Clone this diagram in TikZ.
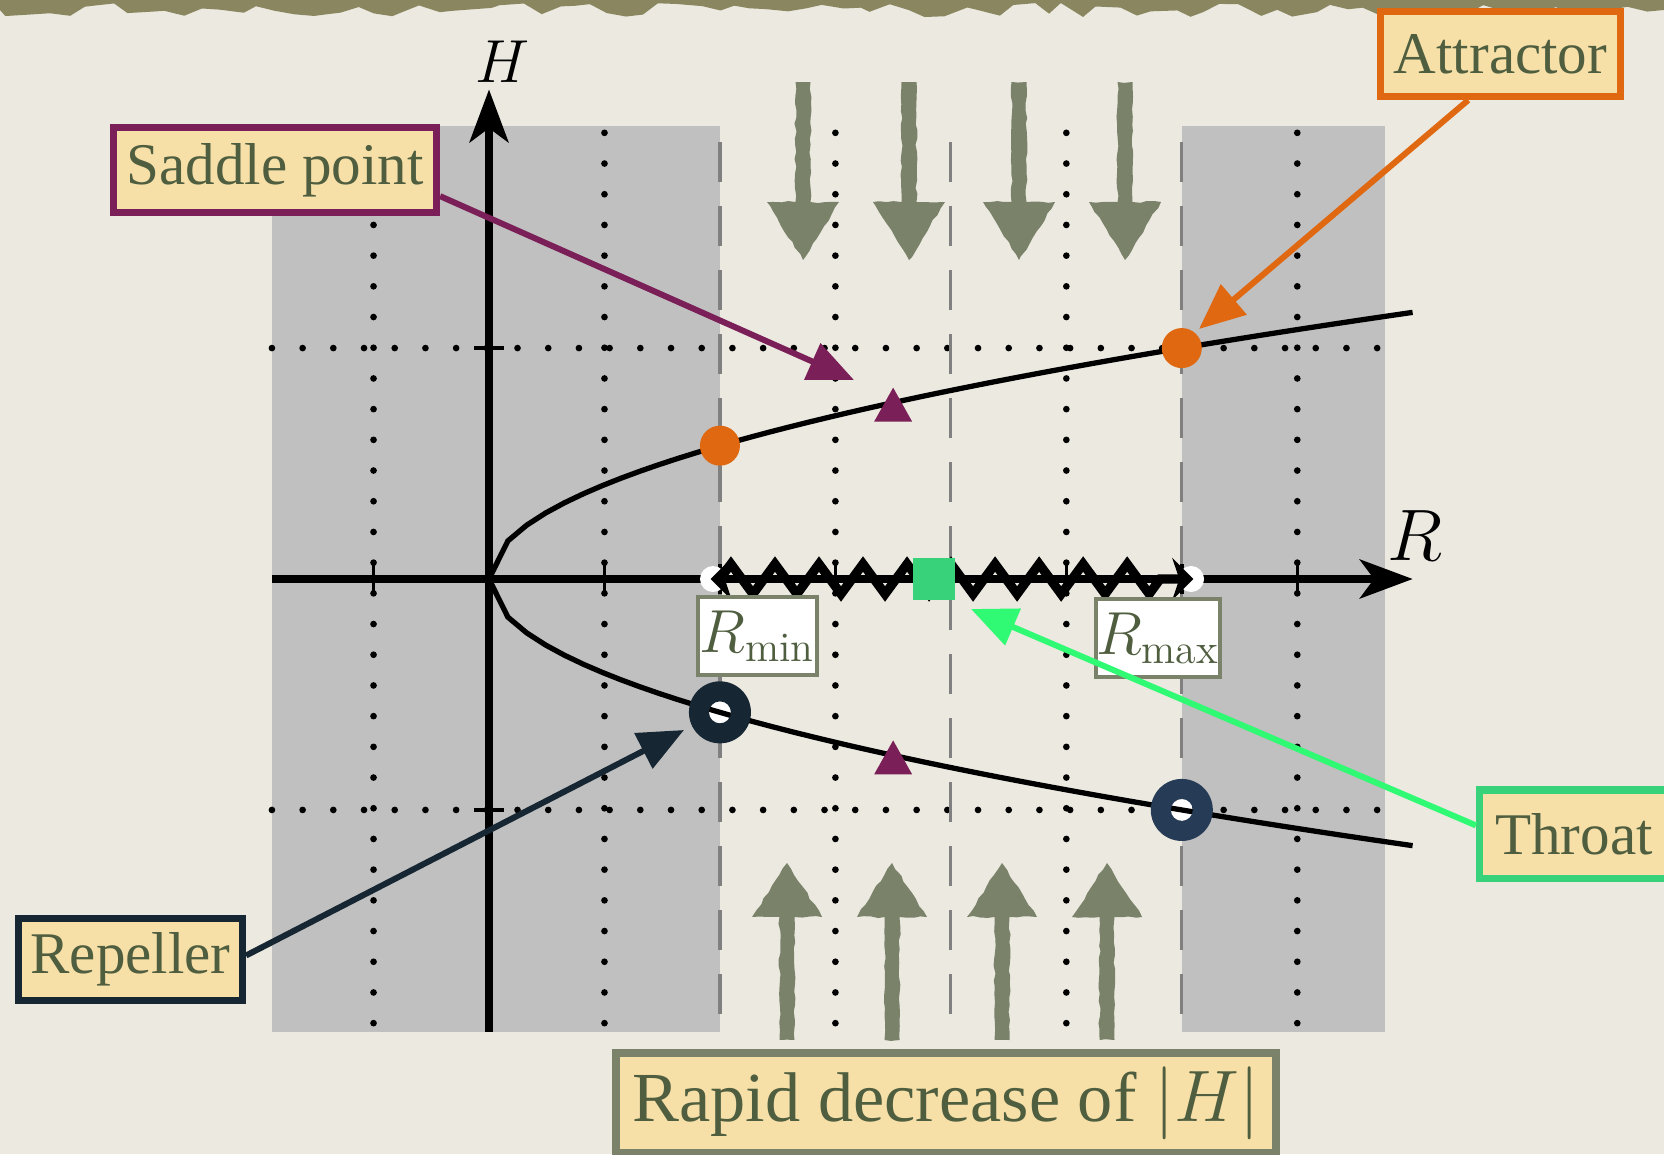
\documentclass[tikz,border=0pt]{standalone}
\usepackage{fontspec}
\newfontfamily\labelfont{Liberation Serif}
\usetikzlibrary{arrows.meta,decorations.pathmorphing,calc}
\definecolor{paper}{RGB}{235,233,224}
\definecolor{band}{RGB}{138,134,96}
\definecolor{greyrect}{RGB}{192,192,192}
\definecolor{chalk}{RGB}{122,130,106}
\definecolor{txt}{RGB}{80,94,64}
\definecolor{wheat}{RGB}{246,224,168}
\definecolor{sadcol}{RGB}{122,31,87}
\definecolor{attcol}{RGB}{224,104,16}
\definecolor{repcol}{RGB}{22,38,50}
\definecolor{repcolb}{RGB}{38,59,85}
\definecolor{thrcol}{RGB}{56,210,122}
\definecolor{thrline}{RGB}{48,250,115}
\definecolor{dashgray}{RGB}{128,128,128}
\begin{document}
\begin{tikzpicture}[x=0.01cm,y=-0.01cm,
  lbl/.style={fill=wheat, line width=2pt, text=txt, font=\labelfont\fontsize{16.8}{20}\selectfont, inner sep=0pt, align=center},
  rbox/.style={fill=white, draw=chalk, line width=1.2pt, text=txt, font=\fontsize{17}{20}\selectfont, inner sep=0pt, minimum width=1.19cm, minimum height=0.78cm},
  callout/.style={line width=1.7pt, -{Triangle[length=13pt,width=11pt]}},
  dotline/.style={line width=1.9pt, line cap=round, dash pattern=on 0pt off 8.73pt},
  dashline/.style={draw=dashgray, line width=0.9pt, dash pattern=on 11.4pt off 6.8pt},
  chalkarrow/.style={fill=chalk, decorate, decoration={random steps, segment length=2pt, amplitude=0.3pt}},
  axisline/.style={line width=2.4pt, -{Stealth[length=15pt,width=11pt,inset=4pt]}},
  curve/.style={line width=1.5pt},
  tickmark/.style={line width=1pt}
]
\fill[paper] (0,0) rectangle (1664,1154);
\useasboundingbox (0,0) rectangle (1664,1154);
\pgfmathsetseed{7}
\fill[band] (0,0) -- (1664,0) -- (1664,10) decorate[decoration={random steps,segment length=5pt,amplitude=2pt}]{-- (0,10)} -- cycle;

\begin{scope}[shift={(489,579)}, x=2.308cm, y=2.308cm]
  \fill[greyrect] (-0.94,-1.96) rectangle (1,1.96);
  \fill[greyrect] (3,-1.96) rectangle (3.88,1.96);
  \foreach \gx in {-0.5,0.5,1.5,2.5,3.5} \draw[dotline] (\gx,1.932) -- (\gx,-1.96);
  \foreach \gy in {1,-1} \draw[dotline] (-0.94,\gy) -- (3.88,\gy);
  \foreach \gx in {1,2,3} \draw[dashline] (\gx,1.893) -- (\gx,-1.96);
\end{scope}

% chalk arrows
\foreach \c in {803,909,1019,1125}
  \fill[chalkarrow] ({\c-7.5},82) -- ({\c+7.5},82) -- ({\c+7.5},202) -- ({\c+36},202) -- (\c,260) -- ({\c-36},202) -- ({\c-7.5},202) -- cycle;
\foreach \c in {787,892,1002,1107}
  \fill[chalkarrow] ({\c-7.5},1040) -- ({\c+7.5},1040) -- ({\c+7.5},917) -- ({\c+35},917) -- (\c,863) -- ({\c-35},917) -- ({\c-7.5},917) -- cycle;

\begin{scope}[shift={(489,579)}, x=2.308cm, y=2.308cm]
  \draw[axisline] (-0.94,0) -- (4.0,0);
  \draw[axisline] (0,-1.96) -- (0,2.12);
  \foreach \gx in {-0.5,0.5,1,1.5,2,2.5,3,3.5} \draw[tickmark] (\gx,0.065) -- (\gx,-0.065);
  \foreach \gy in {1,-1} \draw[tickmark] (-0.065,\gy) -- (0.065,\gy);
  \fill[white] (1,{-sqrt(1/3)}) circle[radius=1.1mm];
  \fill[white] (3,-1) circle[radius=1.1mm];
  \draw[curve] plot[domain=0:4, samples=50] ({\x},{sqrt(\x/3)});
  \draw[curve] plot[domain=0:4, samples=50] ({\x},{-sqrt(\x/3)});
  \fill[attcol] (1,{sqrt(1/3)}) circle[radius=2mm];
  \fill[attcol] (3,1) circle[radius=2mm];
  \fill[repcol, even odd rule] (1,{-sqrt(1/3)}) circle[radius=3.1mm] circle[radius=1.1mm];
  \fill[repcolb, even odd rule] (3,-1) circle[radius=3.1mm] circle[radius=1.1mm];
  \fill[sadcol] (1.75,{sqrt(1.75/3)}) ++(0,0.15cm) -- ++(0.19cm,-0.34cm) -- ++(-0.38cm,0) -- cycle;
  \fill[sadcol] (1.75,{-sqrt(1.75/3)}) ++(0,0.15cm) -- ++(0.19cm,-0.34cm) -- ++(-0.38cm,0) -- cycle;
  \fill[white] (0.97,0) circle[radius=0.13cm];
  \fill[white] (3.04,0) circle[radius=0.13cm];
  \draw[line width=1.8pt, {Stealth[length=6pt,width=12pt,inset=2pt]}-{Stealth[length=6pt,width=12pt,inset=2pt]}] (0.96,0) -- (3.05,0);
  \draw[line width=2.6pt, line join=miter, decorate, decoration={zigzag,segment length=0.44cm,amplitude=0.15cm}] (1.0,0) -- (3.0,0);
  \fill[thrcol] (1.928,0) ++(-0.21cm,-0.21cm) rectangle ++(0.42cm,0.42cm);
\end{scope}

% axis labels
\node[font=\fontsize{17}{20}\selectfont] (hlab) at (502,62) {$H$};
\node[font=\fontsize{20}{24}\selectfont] (rlab) at (1415,536) {$R$};

\node[rbox] (rmin) at (757.5,636) {$R_{\mathrm{min}}$};
\node[rbox] (rmax) at (1158,638) {$R_{\mathrm{max}}$};

% labels
\node[lbl, draw=sadcol, minimum width=3.23cm, minimum height=0.85cm] (saddle) at (275,170) {Saddle point};
\node[lbl, draw=attcol, minimum width=2.40cm, minimum height=0.85cm] (attr) at (1500.5,54) {Attractor};
\node[lbl, draw=repcol, minimum width=2.24cm, minimum height=0.82cm] (rep) at (130.5,959.5) {Repeller};
\node[lbl, draw=thrcol, minimum width=1.89cm, minimum height=0.88cm] (throat) at (1574,834) {Throat};
\node[lbl, draw=chalk, line width=2.4pt, font=\labelfont\fontsize{20}{24}\selectfont, minimum width=6.6cm, minimum height=1.0cm] (rapid) at (946,1103) {Rapid decrease of $|H|$};

\coordinate (tipS) at (854,380);
\coordinate (tipA) at (1199,329);
\coordinate (tipR) at (684,730);
\coordinate (tipT) at (971,609);
\draw[callout, draw=sadcol] (saddle.-9) -- (tipS);
\draw[callout, draw=attcol] (attr.-125) -- (tipA);
\draw[callout, draw=repcol] (rep.2) -- (tipR);
\draw[callout, draw=thrline] (throat.175) -- (tipT);
\end{tikzpicture}
\end{document}
